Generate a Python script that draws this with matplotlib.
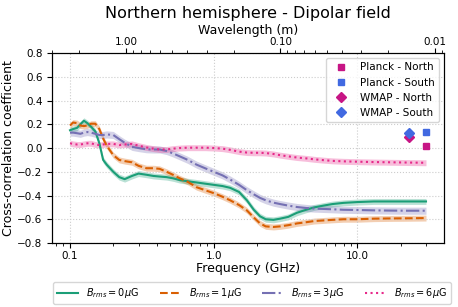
import matplotlib

matplotlib.use("Agg")
import matplotlib.pyplot as plt
from matplotlib.ticker import FormatStrFormatter, NullFormatter

# frequency grid (GHz)
freq = [0.1, 0.105, 0.112, 0.118, 0.125, 0.132, 0.14, 0.15, 0.16, 0.17,
        0.18, 0.2, 0.22, 0.24, 0.27, 0.3, 0.34, 0.38, 0.42, 0.47,
        0.52, 0.58, 0.66, 0.76, 0.87, 1.0, 1.15, 1.3, 1.5, 1.7,
        1.9, 2.1, 2.3, 2.6, 2.9, 3.3, 3.8, 4.4, 5.0, 5.8,
        6.7, 8.0, 10.0, 13.0, 17.0, 22.0, 30.0]

# cross-correlation for each Brms value
corr_b0 = [0.15, 0.16, 0.17, 0.20, 0.23, 0.21, 0.18, 0.14, 0.04, -0.10,
           -0.14, -0.20, -0.245, -0.262, -0.235, -0.215, -0.225, -0.235, -0.24, -0.245,
           -0.255, -0.27, -0.28, -0.29, -0.30, -0.31, -0.32, -0.335, -0.37, -0.44,
           -0.52, -0.575, -0.60, -0.605, -0.595, -0.58, -0.545, -0.52, -0.50, -0.485,
           -0.472, -0.462, -0.455, -0.45, -0.45, -0.45, -0.45]
corr_b1 = [0.19, 0.215, 0.21, 0.19, 0.185, 0.19, 0.205, 0.205, 0.16, 0.08,
           0.02, -0.06, -0.10, -0.11, -0.12, -0.15, -0.17, -0.17, -0.175, -0.20,
           -0.225, -0.255, -0.285, -0.33, -0.355, -0.38, -0.41, -0.44, -0.48, -0.525,
           -0.585, -0.635, -0.66, -0.665, -0.66, -0.65, -0.635, -0.625, -0.615, -0.61,
           -0.605, -0.60, -0.60, -0.595, -0.593, -0.592, -0.59]
corr_b3 = [0.13, 0.13, 0.125, 0.12, 0.13, 0.135, 0.13, 0.12, 0.11, 0.11,
           0.115, 0.11, 0.075, 0.045, 0.01, 0.0, -0.01, -0.012, -0.012, -0.025,
           -0.045, -0.07, -0.10, -0.14, -0.17, -0.20, -0.23, -0.265, -0.31, -0.355,
           -0.39, -0.42, -0.44, -0.46, -0.472, -0.485, -0.497, -0.505, -0.51, -0.513,
           -0.516, -0.52, -0.522, -0.525, -0.527, -0.528, -0.528]
corr_b6 = [0.04, 0.035, 0.03, 0.03, 0.035, 0.04, 0.04, 0.03, 0.025, 0.03,
           0.035, 0.035, 0.025, 0.03, 0.035, 0.02, 0.005, -0.005, -0.012, -0.012,
           -0.005, 0.0, 0.003, 0.003, 0.003, 0.0, -0.005, -0.015, -0.03, -0.038,
           -0.04, -0.04, -0.042, -0.05, -0.06, -0.07, -0.08, -0.087, -0.095, -0.102,
           -0.108, -0.112, -0.115, -0.118, -0.12, -0.122, -0.124]
errs = [0.025, 0.025, 0.03, 0.025]

labels = [r"$B_{rms} = 0\mu$G", r"$B_{rms} = 1\mu$G",
          r"$B_{rms} = 3\mu$G", r"$B_{rms} = 6\mu$G"]

# observed values
planck_freq = [30.0]
planck_north = [0.017]
planck_south = [0.137]
wmap_freq = [23.0]
wmap_north = [0.095]
wmap_south = [0.124]

colors = ["#1b9e77", "#d95f02", "#7570b3", "#e7298a"]
styles = ["-", "--", "-.", ":"]

fig = plt.figure(figsize=(4.58, 3.07), dpi=100)
ax = fig.add_axes([0.114, 0.2085, 0.855, 0.6185])

lines = []
for vals, err, col, ls, lab in zip([corr_b0, corr_b1, corr_b3, corr_b6], errs,
                                   colors, styles, labels):
    lo = [v - err for v in vals]
    hi = [v + err for v in vals]
    ax.fill_between(freq, lo, hi, color=col, alpha=0.3, lw=0)
    (ln,) = ax.plot(freq, vals, color=col, ls=ls, lw=1.5, label=lab)
    lines.append(ln)

m1, = ax.plot(planck_freq, planck_north, "s", color="mediumvioletred", ms=5,
              label="Planck - North")
m2, = ax.plot(planck_freq, planck_south, "s", color="royalblue", ms=5,
              label="Planck - South")
m3, = ax.plot(wmap_freq, wmap_north, "D", color="mediumvioletred", ms=5,
              label="WMAP - North")
m4, = ax.plot(wmap_freq, wmap_south, "D", color="royalblue", ms=5,
              label="WMAP - South")

ax.set_xscale("log")
ax.set_ylim(-0.8, 0.8)
ax.set_yticks([-0.8, -0.6, -0.4, -0.2, 0.0, 0.2, 0.4, 0.6, 0.8])
ax.xaxis.set_major_formatter(FormatStrFormatter("%.1f"))
ax.xaxis.set_minor_formatter(NullFormatter())
ax.tick_params(axis="x", labelsize=7.5, pad=2)
ax.tick_params(axis="y", labelsize=7.5)
ax.grid(True, ls=":", color="#cccccc", lw=0.8)
ax.set_xlabel("Frequency (GHz)", fontsize=9, labelpad=1)
ax.set_ylabel("Cross-correlation coefficient", fontsize=9)
ax.yaxis.set_label_coords(-0.095, 0.5)

leg1 = ax.legend(handles=[m1, m2, m3, m4], loc="upper right", fontsize=7.5)
ax.add_artist(leg1)
ax.legend(handles=lines, loc="upper center", bbox_to_anchor=(0.51, -0.18),
          ncol=4, fontsize=7, handlelength=2.2, columnspacing=2.1)

ax2 = ax.twiny()
ax2.set_xscale("log")
ax2.set_xlim(3.0, 0.00875)
ax2.xaxis.set_major_formatter(FormatStrFormatter("%.2f"))
ax2.xaxis.set_minor_formatter(NullFormatter())
ax2.tick_params(labelsize=7.5, pad=1)
ax2.set_xlabel("Wavelength (m)", fontsize=9, labelpad=2)
fig.text(248 / 458, 1 - 13.5 / 307, "Northern hemisphere - Dipolar field",
         fontsize=11.5, ha="center", va="center")

fig.savefig("out.png", dpi=100)
